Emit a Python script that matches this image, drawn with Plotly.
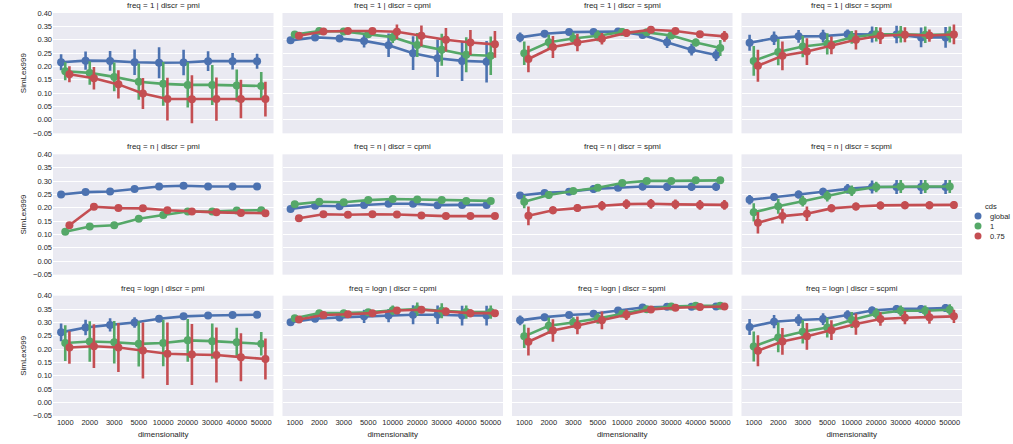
import plotly.graph_objects as go
from plotly.subplots import make_subplots

dims = ["1000", "2000", "3000", "5000", "10000", "20000", "30000", "40000", "50000"]
hues = ["global", "1", "0.75"]
freqs = ["1", "n", "logn"]
discrs = ["pmi", "cpmi", "spmi", "scpmi"]
colors = ["#4C72B0", "#55A868", "#C44E52"]
yticks = [-0.05, 0.0, 0.05, 0.10, 0.15, 0.20, 0.25, 0.30, 0.35, 0.40]

# mean SimLex999 per panel: [global, 1, 0.75]
mean_f1_pmi = [[0.216, 0.222, 0.221, 0.216, 0.214, 0.215, 0.220, 0.220, 0.220],
               [0.182, 0.176, 0.161, 0.143, 0.135, 0.131, 0.131, 0.129, 0.127],
               [0.171, 0.156, 0.133, 0.099, 0.078, 0.077, 0.078, 0.078, 0.078]]
ci_f1_pmi = [[0.030, 0.034, 0.037, 0.048, 0.058, 0.048, 0.037, 0.031, 0.028],
             [0.034, 0.044, 0.054, 0.068, 0.082, 0.085, 0.075, 0.060, 0.052],
             [0.030, 0.042, 0.053, 0.058, 0.080, 0.090, 0.081, 0.072, 0.065]]

mean_f1_cpmi = [[0.298, 0.309, 0.305, 0.296, 0.280, 0.250, 0.231, 0.221, 0.218],
                [0.320, 0.333, 0.331, 0.321, 0.310, 0.281, 0.263, 0.244, 0.240],
                [0.315, 0.331, 0.333, 0.333, 0.330, 0.315, 0.300, 0.290, 0.283]]
ci_f1_cpmi = [[0.005, 0.008, 0.010, 0.025, 0.044, 0.063, 0.070, 0.075, 0.078],
              [0.005, 0.006, 0.008, 0.010, 0.022, 0.045, 0.060, 0.066, 0.072],
              [0.005, 0.005, 0.005, 0.010, 0.027, 0.039, 0.044, 0.047, 0.050]]

mean_f1_spmi = [[0.309, 0.323, 0.329, 0.329, 0.331, 0.318, 0.291, 0.263, 0.243],
                [0.250, 0.291, 0.305, 0.315, 0.329, 0.328, 0.316, 0.290, 0.269],
                [0.228, 0.273, 0.290, 0.304, 0.326, 0.338, 0.333, 0.321, 0.313]]
ci_f1_spmi = [[0.018, 0.014, 0.010, 0.010, 0.010, 0.012, 0.022, 0.022, 0.022],
              [0.044, 0.028, 0.022, 0.020, 0.015, 0.010, 0.012, 0.015, 0.030],
              [0.050, 0.041, 0.033, 0.022, 0.015, 0.010, 0.010, 0.012, 0.020]]

mean_f1_scpmi = [[0.289, 0.306, 0.313, 0.314, 0.321, 0.320, 0.320, 0.309, 0.309],
                 [0.221, 0.254, 0.275, 0.285, 0.309, 0.321, 0.321, 0.319, 0.320],
                 [0.203, 0.240, 0.256, 0.279, 0.300, 0.315, 0.319, 0.316, 0.320]]
ci_f1_scpmi = [[0.030, 0.025, 0.024, 0.024, 0.018, 0.030, 0.033, 0.037, 0.039],
               [0.056, 0.049, 0.040, 0.040, 0.024, 0.027, 0.031, 0.031, 0.030],
               [0.060, 0.054, 0.050, 0.033, 0.036, 0.031, 0.028, 0.023, 0.037]]

mean_fn_pmi = [[0.250, 0.259, 0.261, 0.271, 0.280, 0.283, 0.280, 0.280, 0.280],
               [0.110, 0.130, 0.135, 0.159, 0.173, 0.186, 0.186, 0.190, 0.191],
               [0.135, 0.204, 0.199, 0.198, 0.191, 0.186, 0.183, 0.181, 0.180]]
ci_fn_pmi = [[0.003] * 9, [0.003] * 9, [0.003] * 9]

mean_fn_cpmi = [[0.196, 0.208, 0.206, 0.211, 0.215, 0.215, 0.210, 0.211, 0.211],
                [0.213, 0.223, 0.221, 0.229, 0.233, 0.231, 0.229, 0.226, 0.226],
                [0.161, 0.176, 0.174, 0.176, 0.175, 0.171, 0.169, 0.169, 0.169]]
ci_fn_cpmi = [[0.003] * 9, [0.003] * 9, [0.003] * 9]

mean_fn_spmi = [[0.246, 0.256, 0.260, 0.271, 0.275, 0.280, 0.279, 0.279, 0.279],
                [0.223, 0.248, 0.263, 0.275, 0.293, 0.301, 0.301, 0.303, 0.303],
                [0.170, 0.191, 0.199, 0.208, 0.214, 0.215, 0.213, 0.211, 0.211]]
ci_fn_spmi = [[0.012, 0.010, 0.010, 0.015, 0.012, 0.015, 0.016, 0.016, 0.016],
              [0.025, 0.015, 0.010, 0.010, 0.010, 0.010, 0.010, 0.010, 0.010],
              [0.035, 0.015, 0.015, 0.018, 0.018, 0.018, 0.018, 0.018, 0.018]]

mean_fn_scpmi = [[0.230, 0.241, 0.250, 0.260, 0.271, 0.278, 0.278, 0.278, 0.278],
                 [0.183, 0.206, 0.225, 0.244, 0.264, 0.278, 0.280, 0.280, 0.280],
                 [0.144, 0.169, 0.178, 0.198, 0.205, 0.209, 0.210, 0.210, 0.211]]
ci_fn_scpmi = [[0.018, 0.015, 0.015, 0.015, 0.018, 0.024, 0.026, 0.026, 0.026],
               [0.034, 0.028, 0.020, 0.020, 0.020, 0.020, 0.024, 0.024, 0.024],
               [0.040, 0.028, 0.027, 0.015, 0.015, 0.015, 0.015, 0.015, 0.015]]

mean_flogn_pmi = [[0.263, 0.281, 0.291, 0.300, 0.314, 0.323, 0.326, 0.328, 0.329],
                  [0.223, 0.229, 0.226, 0.220, 0.223, 0.233, 0.230, 0.226, 0.220],
                  [0.206, 0.211, 0.206, 0.195, 0.183, 0.180, 0.178, 0.170, 0.163]]
ci_flogn_pmi = [[0.033, 0.029, 0.025, 0.020, 0.010, 0.005, 0.005, 0.005, 0.005],
                [0.067, 0.076, 0.080, 0.085, 0.087, 0.080, 0.066, 0.054, 0.044],
                [0.061, 0.082, 0.092, 0.105, 0.117, 0.114, 0.103, 0.090, 0.077]]

mean_flogn_cpmi = [[0.301, 0.314, 0.319, 0.323, 0.326, 0.329, 0.329, 0.326, 0.326],
                   [0.316, 0.335, 0.335, 0.338, 0.346, 0.350, 0.344, 0.339, 0.339],
                   [0.311, 0.328, 0.331, 0.335, 0.345, 0.348, 0.341, 0.335, 0.335]]
ci_flogn_cpmi = [[0.005, 0.006, 0.008, 0.025, 0.025, 0.036, 0.035, 0.037, 0.037],
                 [0.005, 0.005, 0.006, 0.012, 0.018, 0.025, 0.028, 0.025, 0.025],
                 [0.005, 0.005, 0.005, 0.008, 0.012, 0.012, 0.015, 0.015, 0.012]]

mean_flogn_spmi = [[0.308, 0.320, 0.328, 0.333, 0.345, 0.356, 0.359, 0.359, 0.360],
                   [0.248, 0.288, 0.300, 0.315, 0.333, 0.350, 0.360, 0.363, 0.363],
                   [0.228, 0.270, 0.289, 0.308, 0.329, 0.349, 0.355, 0.358, 0.360]]
ci_flogn_spmi = [[0.018, 0.013, 0.010, 0.010, 0.005, 0.005, 0.005, 0.005, 0.005],
                 [0.044, 0.031, 0.020, 0.020, 0.012, 0.008, 0.008, 0.008, 0.008],
                 [0.052, 0.042, 0.033, 0.033, 0.020, 0.012, 0.012, 0.012, 0.008]]

mean_flogn_scpmi = [[0.283, 0.303, 0.309, 0.313, 0.328, 0.345, 0.351, 0.351, 0.354],
                    [0.210, 0.244, 0.265, 0.281, 0.309, 0.333, 0.344, 0.344, 0.348],
                    [0.194, 0.229, 0.248, 0.271, 0.294, 0.313, 0.318, 0.320, 0.323]]
ci_flogn_scpmi = [[0.030, 0.025, 0.022, 0.022, 0.018, 0.015, 0.015, 0.015, 0.015],
                  [0.056, 0.056, 0.044, 0.037, 0.030, 0.020, 0.020, 0.020, 0.020],
                  [0.058, 0.050, 0.050, 0.037, 0.040, 0.025, 0.025, 0.025, 0.025]]

panels = {
    ("1", "pmi"): (mean_f1_pmi, ci_f1_pmi),
    ("1", "cpmi"): (mean_f1_cpmi, ci_f1_cpmi),
    ("1", "spmi"): (mean_f1_spmi, ci_f1_spmi),
    ("1", "scpmi"): (mean_f1_scpmi, ci_f1_scpmi),
    ("n", "pmi"): (mean_fn_pmi, ci_fn_pmi),
    ("n", "cpmi"): (mean_fn_cpmi, ci_fn_cpmi),
    ("n", "spmi"): (mean_fn_spmi, ci_fn_spmi),
    ("n", "scpmi"): (mean_fn_scpmi, ci_fn_scpmi),
    ("logn", "pmi"): (mean_flogn_pmi, ci_flogn_pmi),
    ("logn", "cpmi"): (mean_flogn_cpmi, ci_flogn_cpmi),
    ("logn", "spmi"): (mean_flogn_spmi, ci_flogn_spmi),
    ("logn", "scpmi"): (mean_flogn_scpmi, ci_flogn_scpmi),
}

W, H = 1013, 444
ML, MR, MT, MB = 53, 51, 13, 28
PW, PH = W - ML - MR, H - MT - MB

FONT = "Liberation Sans, Arial, sans-serif"
TXT = "#262626"


def px_x(px):
    return (px - ML) / PW


def px_y(py):
    return 1 - (py - MT) / PH


fig = make_subplots(rows=3, cols=4, shared_xaxes=True, shared_yaxes=True,
                    horizontal_spacing=9 / PW, vertical_spacing=21 / PH)

dodge = 0.17
for r, freq in enumerate(freqs):
    for c, discr in enumerate(discrs):
        means, cis = panels[(freq, discr)]
        for h, hue in enumerate(hues):
            off = (h - 1) * dodge
            fig.add_trace(go.Scatter(
                x=[i + off for i in range(len(dims))], y=means[h],
                mode="lines+markers", name=hue, showlegend=False,
                line=dict(color=colors[h], width=2.6),
                marker=dict(color=colors[h], size=8),
                error_y=dict(type="data", array=cis[h], color=colors[h],
                             thickness=2.6, width=0),
                hoverinfo="x+y+name",
            ), row=r + 1, col=c + 1)

fig.update_xaxes(range=[-0.5, 8.5], tickvals=list(range(len(dims))), ticktext=dims,
                 showgrid=False, zeroline=False, showline=False, ticks="",
                 automargin=False,
                 tickfont=dict(size=7.5, color=TXT, family=FONT))
fig.update_yaxes(range=[-0.0505, 0.4005], tickvals=yticks,
                 ticktext=[f"{v:.2f}".replace("-", "\u2212") for v in yticks],
                 showgrid=True, gridcolor="white", gridwidth=1, zeroline=False,
                 showline=False, ticks="", automargin=False,
                 tickfont=dict(size=7.5, color=TXT, family=FONT))
for c in range(4):
    fig.update_xaxes(title=dict(text="dimensionality", standoff=5,
                                font=dict(size=8, color=TXT, family=FONT)),
                     row=3, col=c + 1)
for r in range(3):
    fig.update_yaxes(title=dict(text="SimLex999", standoff=5,
                                font=dict(size=8, color=TXT, family=FONT)),
                     row=r + 1, col=1)

# panel titles
annotations = []
for r, freq in enumerate(freqs):
    for c, discr in enumerate(discrs):
        idx = r * 4 + c + 1
        xd = fig.layout["xaxis" if idx == 1 else f"xaxis{idx}"].domain
        yd = fig.layout["yaxis" if idx == 1 else f"yaxis{idx}"].domain
        annotations.append(dict(text=f"freq = {freq} | discr = {discr}",
                                x=(xd[0] + xd[1]) / 2, y=yd[1], xref="paper", yref="paper",
                                xanchor="center", yanchor="bottom", yshift=1,
                                showarrow=False, font=dict(size=8, color=TXT, family=FONT)))

# legend (manual, compact like seaborn)
lx_marker = 978
lx_text = 988
ly0 = 216
shapes = []
annotations.append(dict(text="cds", x=px_x(991), y=px_y(206), xref="paper", yref="paper",
                        xanchor="center", yanchor="middle", showarrow=False,
                        font=dict(size=7.5, color=TXT, family=FONT)))
for h, hue in enumerate(hues):
    cy = ly0 + h * 10
    rad = 3.5
    shapes.append(dict(type="circle", xref="paper", yref="paper",
                       x0=px_x(lx_marker - rad), x1=px_x(lx_marker + rad),
                       y0=px_y(cy + rad), y1=px_y(cy - rad),
                       fillcolor=colors[h], line=dict(width=0)))
    annotations.append(dict(text=hue, x=px_x(lx_text), y=px_y(cy), xref="paper", yref="paper",
                            xanchor="left", yanchor="middle", showarrow=False,
                            font=dict(size=7.5, color=TXT, family=FONT)))

fig.update_layout(width=W, height=H, margin=dict(l=ML, r=MR, t=MT, b=MB),
                  plot_bgcolor="#EAEAF2", paper_bgcolor="white",
                  showlegend=False, annotations=annotations, shapes=shapes,
                  font=dict(family=FONT, color=TXT, size=8))

fig.write_html("out.html")
